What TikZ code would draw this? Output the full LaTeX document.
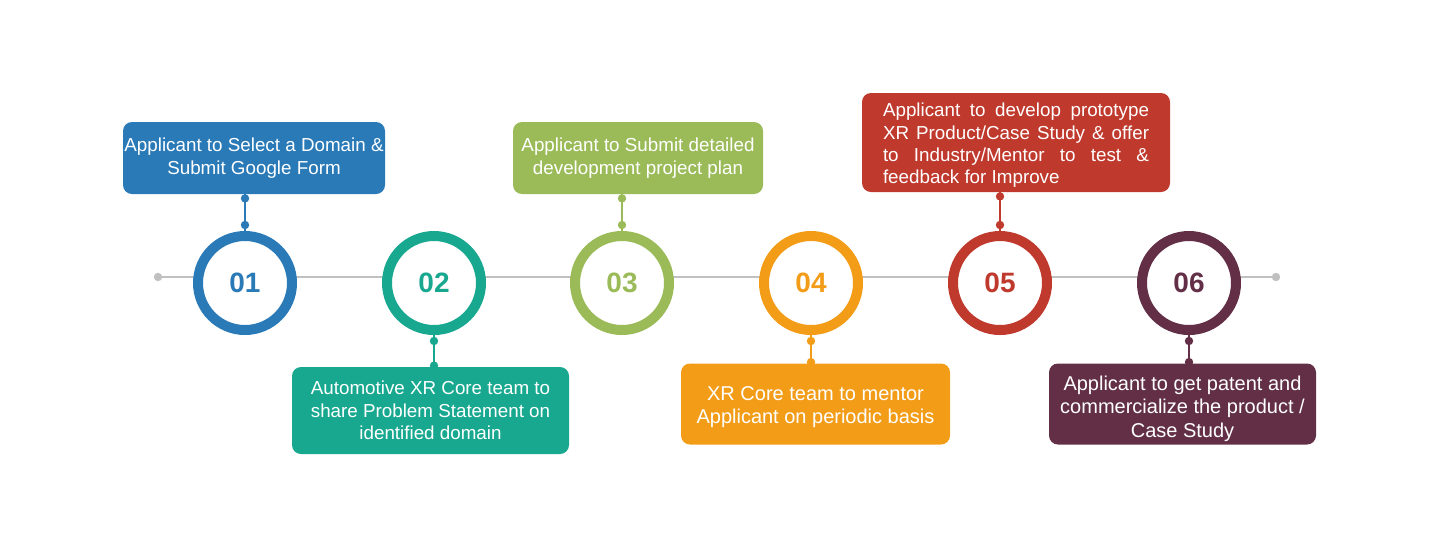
\documentclass[tikz,border=0pt]{standalone}
\usepackage{fontspec}
\setmainfont{Liberation Sans}
\usetikzlibrary{calc}
\definecolor{cA}{HTML}{2A7AB8}
\definecolor{cB}{HTML}{17A88F}
\definecolor{cC}{HTML}{9BBB59}
\definecolor{cD}{HTML}{F29C17}
\definecolor{cE}{HTML}{BF392D}
\definecolor{cF}{HTML}{622F47}
\definecolor{tl}{HTML}{C0C0C0}
\tikzset{
  ring/.style={circle, draw=#1, line width=5pt, fill=white, minimum size=47pt, inner sep=0pt,
    text=#1, font=\fontsize{14}{16}\selectfont\bfseries},
  card/.style={rectangle, rounded corners=4.5pt, fill=#1, text=white, inner sep=0pt,
    align=center, font=\fontsize{9.4}{11.2}\selectfont},
  bigtext/.style={font=\fontsize{10}{11.7}\selectfont},
  conn/.style={draw=#1, line width=1pt},
}
\begin{document}
\begin{tikzpicture}[x=0.5pt,y=-0.5pt]
\useasboundingbox (0,0) rectangle (1440,548);
% timeline
\coordinate (L) at (158,277);
\coordinate (R) at (1276,277);
\draw[tl, line width=0.6pt] (L) -- (R);
\fill[tl] (L) circle (4.2);
\fill[tl] (R) circle (4.2);
% rings
\node[ring=cA] (c1) at (245,283) {01};
\node[ring=cB] (c2) at (434,283) {02};
\node[ring=cC] (c3) at (622,283) {03};
\node[ring=cD] (c4) at (811,283) {04};
\node[ring=cE] (c5) at (1000,283) {05};
\node[ring=cF] (c6) at (1189,283) {06};
% cards
\node[card=cA, minimum width=131pt, minimum height=36pt] (b1) at (254,158)
  {Applicant to Select a Domain \&\\Submit Google Form};
\node[card=cB, minimum width=138.5pt, minimum height=43.5pt] (b2) at (430.5,410.5)
  {Automotive XR Core team to\\share Problem Statement on\\identified domain};
\node[card=cC, minimum width=125pt, minimum height=36pt] (b3) at (638,158)
  {Applicant to Submit detailed\\development project plan};
\node[card=cD, bigtext, minimum width=134.5pt, minimum height=40.5pt] (b4) at (815.5,404)
  {\rule{0pt}{10.2pt}XR Core team to mentor\\Applicant on periodic basis};
\node[card=cE, minimum width=154pt, minimum height=49.5pt, text width=133pt, align=justify] (b5) at (1016,142.5)
  {\rule{0pt}{9.8pt}Applicant to develop prototype\linebreak
   XR Product/Case Study \& offer\linebreak
   to Industry/Mentor to test \&\linebreak
   feedback for Improve};
\node[card=cF, bigtext, minimum width=133.5pt, minimum height=40.5pt] (b6) at (1182.5,404)
  {\rule{0pt}{12pt}Applicant to get patent and\\commercialize the product /\\Case Study};
% connectors (top cards)
\foreach \i/\c in {1/cA,3/cC,5/cE}{
  \draw[conn=\c] (b\i.south -| c\i) -- (c\i.north);
  \fill[\c] ($(b\i.south -| c\i)+(0,4)$) circle (4.2);
  \fill[\c] ($(c\i.north)+(0,-6)$) circle (4.2);
}
% connectors (bottom cards)
\foreach \i/\c in {2/cB,4/cD,6/cF}{
  \draw[conn=\c] (c\i.south) -- (b\i.north -| c\i);
  \fill[\c] ($(c\i.south)+(0,6)$) circle (4.2);
  \fill[\c] ($(b\i.north -| c\i)+(0,-1)$) circle (4.2);
}
\end{tikzpicture}
\end{document}
